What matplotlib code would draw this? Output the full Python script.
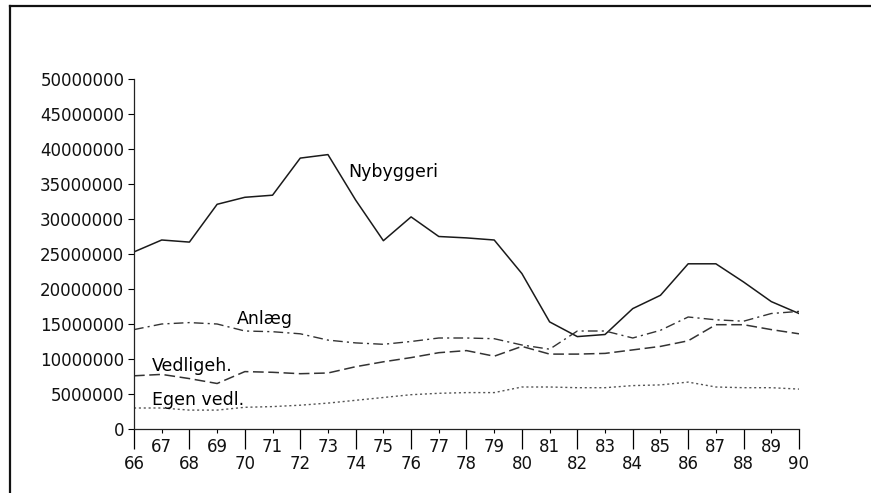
import matplotlib
matplotlib.use("Agg")
import matplotlib.pyplot as plt
from matplotlib.lines import Line2D

years = list(range(66, 91))
nybyggeri = [25.3, 27.0, 26.7, 32.1, 33.1, 33.4, 38.7, 39.2, 32.7, 26.9, 30.3, 27.5, 27.3,
             27.0, 22.2, 15.3, 13.2, 13.5, 17.2, 19.1, 23.6, 23.6, 21.0, 18.2, 16.5]
anlaeg = [14.2, 15.0, 15.2, 15.0, 14.0, 13.9, 13.6, 12.7, 12.3, 12.1, 12.5, 13.0, 13.0,
          12.9, 12.0, 11.4, 14.0, 14.0, 13.0, 14.1, 16.0, 15.6, 15.4, 16.5, 16.8]
vedligeh = [7.6, 7.8, 7.2, 6.5, 8.2, 8.1, 7.9, 8.0, 8.9, 9.6, 10.2, 10.9, 11.2,
            10.4, 11.8, 10.7, 10.7, 10.8, 11.3, 11.8, 12.6, 14.9, 14.9, 14.2, 13.6]
egen_vedl = [3.0, 3.0, 2.7, 2.7, 3.1, 3.2, 3.4, 3.7, 4.1, 4.5, 4.9, 5.1, 5.2,
             5.2, 6.0, 6.0, 5.9, 5.9, 6.2, 6.3, 6.7, 6.0, 5.9, 5.9, 5.7]
y_ticks = list(range(0, 50000001, 5000000))
series_labels = ["Nybyggeri", "Anlæg", "Vedligeh.", "Egen vedl."]

plt.rcParams['font.family'] = ['DejaVu Sans']
W, H = 871, 493
fig = plt.figure(figsize=(W / 100, H / 100), dpi=100)
ax = fig.add_axes([134 / W, 1 - 429 / H, (799 - 134) / W, (429 - 79) / H])

M = 1e6
ax.plot(years, [v * M for v in nybyggeri], color='#1a1a1a', lw=1.1, ls='-')
ax.plot(years, [v * M for v in anlaeg], color='#333333', lw=1.0, ls=(0, (7, 3, 1.5, 3)))
ax.plot(years, [v * M for v in vedligeh], color='#333333', lw=1.1, ls=(0, (7, 3)))
ax.plot(years, [v * M for v in egen_vedl], color='#555555', lw=1.0, ls=(0, (1.5, 2)))

tfs = 12
ax.set_xlim(66, 90)
ax.set_ylim(0, 50000000)
ax.set_yticks(y_ticks)
ax.set_yticklabels([str(v) for v in y_ticks], fontsize=tfs, color='#111111')
ax.tick_params(axis='y', length=4, width=0.8, pad=3)

even = [y for y in years if y % 2 == 0]
odd = [y for y in years if y % 2 == 1]
ax.set_xticks(even)
ax.set_xticklabels([str(y) for y in even], fontsize=tfs, color='#111111')
ax.set_xticks(odd, minor=True)
ax.set_xticklabels([str(y) for y in odd], minor=True, fontsize=tfs, color='#111111')
ax.tick_params(axis='x', which='major', length=14.5, width=0.9, pad=4, direction='out')
ax.tick_params(axis='x', which='minor', length=3, width=0.8, pad=3.5, direction='out')

for s in ['top', 'right']:
    ax.spines[s].set_visible(False)
for s in ['left', 'bottom']:
    ax.spines[s].set_linewidth(0.9)
    ax.spines[s].set_color('#222222')

fs = 12.5
ax.text(73.73, 36.7 * M, series_labels[0], fontsize=fs, va='center', ha='left')
ax.text(69.72, 15.7 * M, series_labels[1], fontsize=fs, va='center', ha='left')
ax.text(66.65, 9.0 * M, series_labels[2], fontsize=fs, va='center', ha='left')
ax.text(66.65, 4.1 * M, series_labels[3], fontsize=fs, va='center', ha='left')

# scanned page frame
fig.add_artist(Line2D([10 / W, 10 / W], [0, 1 - 6 / H], transform=fig.transFigure,
                      color='#111111', lw=1.6))
fig.add_artist(Line2D([10 / W, 1], [1 - 6 / H, 1 - 6 / H], transform=fig.transFigure,
                      color='#111111', lw=1.6))

fig.savefig("out.png", dpi=100)
